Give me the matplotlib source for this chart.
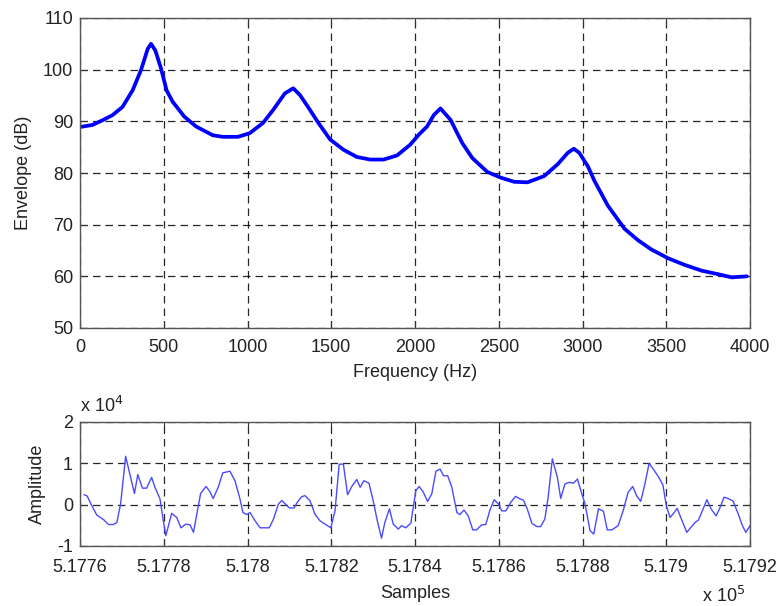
import matplotlib
matplotlib.use("Agg")
import matplotlib.pyplot as plt
from matplotlib.ticker import FixedLocator, FuncFormatter

plt.rcParams['font.family'] = ['Liberation Sans', 'DejaVu Sans']

# ---- Top panel: spectral envelope ----
freq_hz = [0, 74, 134, 194, 254, 314, 364, 404, 424, 450, 484, 517, 553, 623, 693,
           793, 853, 943, 1013, 1093, 1153, 1223, 1273, 1313, 1363, 1423, 1493, 1573,
           1653, 1733, 1812, 1893, 1972, 2022, 2072, 2112, 2152, 2212, 2282, 2342,
           2432, 2512, 2592, 2672, 2771, 2852, 2912, 2948, 2981, 3032, 3071, 3151,
           3251, 3331, 3411, 3511, 3611, 3711, 3811, 3891, 3981]
envelope_db = [88.9, 89.3, 90.2, 91.2, 92.8, 96.0, 99.9, 104.0, 105.0, 103.7, 100.2,
               96.0, 93.8, 90.9, 89.0, 87.3, 87.0, 87.0, 87.7, 89.7, 92.2, 95.4, 96.4,
               95.1, 92.7, 89.7, 86.5, 84.5, 83.1, 82.6, 82.6, 83.4, 85.5, 87.4, 89.0,
               91.2, 92.5, 90.3, 85.8, 82.9, 80.2, 79.1, 78.3, 78.2, 79.4, 81.7, 83.9,
               84.7, 83.9, 81.3, 78.5, 73.7, 69.2, 67.0, 65.2, 63.5, 62.2, 61.1, 60.4,
               59.8, 60.0]
freq_ticks = [0, 500, 1000, 1500, 2000, 2500, 3000, 3500, 4000]
db_ticks = [50, 60, 70, 80, 90, 100, 110]

# ---- Bottom panel: waveform ----
samples = [517761.0, 517761.7, 517762.8, 517764.0, 517765.6, 517766.8, 517768.0,
           517768.8, 517769.7, 517770.9, 517771.8, 517773.0, 517773.8, 517774.9,
           517775.9, 517777.1, 517777.9, 517779.1, 517779.9, 517780.5, 517781.9,
           517783.1, 517784.1, 517785.3, 517786.3, 517787.1, 517788.8, 517790.1,
           517791.0, 517791.8, 517793.0, 517794.1, 517795.8, 517797.0, 517798.2,
           517798.9, 517799.8, 517800.6, 517801.8, 517803.0, 517805.2, 517806.2,
           517807.4, 517808.2, 517809.0, 517810.0, 517811.1, 517811.9, 517812.9,
           517813.7, 517814.9, 517816.1, 517817.3, 517818.5, 517819.9, 517820.9,
           517821.9, 517822.9, 517823.9, 517824.9, 517826.1, 517826.9, 517827.8,
           517829.0, 517830.0, 517831.0, 517832.0, 517832.8, 517833.9, 517834.8,
           517836.0, 517836.8, 517837.8, 517839.0, 517840.2, 517841.0, 517842.0,
           517843.0, 517844.0, 517845.0, 517846.0, 517846.8, 517847.8, 517848.8,
           517850.0, 517850.7, 517851.7, 517852.7, 517853.8, 517854.7, 517855.9,
           517856.9, 517857.9, 517858.9, 517859.9, 517860.7, 517861.7, 517862.9,
           517864.0, 517865.1, 517865.9, 517866.8, 517867.9, 517869.1, 517870.0,
           517871.0, 517871.8, 517872.8, 517874.0, 517874.8, 517875.8, 517876.8,
           517877.8, 517878.8, 517879.6, 517880.6, 517881.8, 517882.7, 517883.8,
           517885.0, 517885.9, 517887.0, 517888.5, 517889.7, 517890.9, 517892.0,
           517892.9, 517893.9, 517894.9, 517895.9, 517896.9, 517898.1, 517899.2,
           517900.0, 517900.9, 517901.9, 517902.6, 517903.8, 517904.9, 517905.8,
           517906.9, 517907.7, 517908.7, 517909.7, 517910.7, 517911.9, 517912.8,
           517913.8, 517914.8, 517916.0, 517917.2, 517918.2, 517919.0, 517920.0]
amplitude = [2400, 2100, -200, -2500, -3600, -4800, -4800, -4300, 200, 11700, 7800,
             2700, 7300, 4000, 4000, 6600, 4200, 1400, -3900, -7500, -2100, -3100,
             -5600, -4700, -4900, -6700, 2700, 4400, 3200, 1500, 4200, 7700, 8100,
             5800, 1400, -1900, -2400, -1900, -3900, -5600, -5600, -3500, 200, 1000,
             200, -800, -800, 600, 1900, 2200, 1000, -2300, -3900, -4700, -5600,
             -1500, 9800, 9800, 2400, 4400, 6100, 4200, 5800, 5200, 1000, -3900,
             -8100, -4300, -1000, -4700, -5900, -5100, -5600, -4500, 3400, 4400,
             3000, 800, 2600, 8100, 8600, 7000, 7000, 4200, -1900, -2400, -1300,
             -2700, -6100, -6100, -4900, -4800, -1300, 1200, 200, -1500, -1500, 600,
             2000, 1400, 1100, -1000, -4500, -5300, -5300, -3500, 1800, 11100, 6600,
             1500, 5000, 5400, 5200, 6200, 3400, 200, -6300, -7100, -1000, -1600,
             -6100, -6100, -5100, -1500, 3000, 4400, 2200, 800, 5000, 10000, 8600,
             6800, 4800, -200, -3100, -1900, -900, -3900, -6700, -5600, -4300, -3700,
             -1300, 1200, -1000, -2700, -800, 1800, 1500, 800, -2300, -5100, -6700,
             -5100]
sample_ticks = [517760, 517780, 517800, 517820, 517840, 517860, 517880, 517900, 517920]
amp_ticks = [-10000, 0, 10000, 20000]

W, H = 782, 606
fig = plt.figure(figsize=(W / 100, H / 100), dpi=100)

L, R = 80, 750
ax1 = fig.add_axes([L / W, 1 - 328 / H, (R - L) / W, 310 / H])
ax2 = fig.add_axes([L / W, 1 - 546 / H, (R - L) / W, 124 / H])

FS = 13
grid_kw = dict(color='black', linestyle=(0, (6, 4)), linewidth=0.9, alpha=0.85)

for ax in (ax1, ax2):
    for s in ax.spines.values():
        s.set_color('#555555')
        s.set_linewidth(1.0)
    ax.tick_params(direction='in', length=5, width=0.8, colors='#333333',
                   labelsize=FS, labelcolor='#222222', top=True, right=True, pad=5)
    ax.grid(True, **grid_kw)
    ax.set_axisbelow(True)

ax1.tick_params(axis='x', pad=8)
ax2.tick_params(axis='x', pad=9)

ax1.plot(freq_hz, envelope_db, color='#0000ff', linewidth=2.7, solid_capstyle='round',
         solid_joinstyle='round')
ax1.set_xlim(0, 4000)
ax1.set_ylim(50, 110)
ax1.xaxis.set_major_locator(FixedLocator(freq_ticks))
ax1.yaxis.set_major_locator(FixedLocator(db_ticks))
ax1.set_xlabel('Frequency (Hz)', fontsize=FS, color='#222222', labelpad=6)
ax1.set_ylabel('Envelope (dB)', fontsize=FS, color='#222222', labelpad=8)

ax2.plot(samples, amplitude, color='#4a4aff', linewidth=1.0)
ax2.set_xlim(517760, 517920)
ax2.set_ylim(-10000, 20000)
ax2.xaxis.set_major_locator(FixedLocator(sample_ticks))
ax2.yaxis.set_major_locator(FixedLocator(amp_ticks))
ax2.xaxis.set_major_formatter(FuncFormatter(lambda v, p: f"{v / 1e5:.5g}"))
ax2.yaxis.set_major_formatter(FuncFormatter(lambda v, p: f"{v / 1e4:g}"))
ax2.set_xlabel('Samples', fontsize=FS, color='#222222', labelpad=7)
ax2.set_ylabel('Amplitude', fontsize=FS, color='#222222', labelpad=8)

fig.text(80 / W, 1 - 412 / H, r'x 10$^{4}$', fontsize=FS, color='#222222',
         ha='left', va='baseline')
fig.text(745 / W, 1 - 602 / H, r'x 10$^{5}$', fontsize=FS, color='#222222',
         ha='right', va='baseline')

fig.savefig('out.png', dpi=100)
